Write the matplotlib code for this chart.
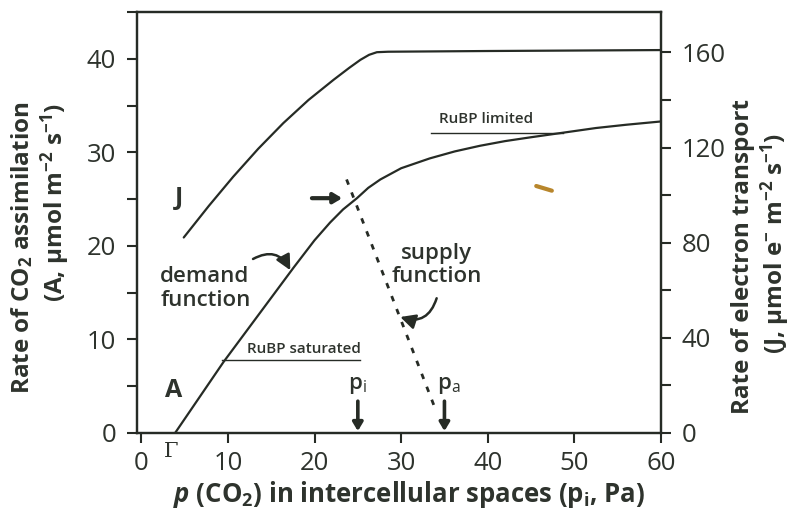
import matplotlib
matplotlib.use('Agg')
import matplotlib.pyplot as plt

plt.rcParams['font.family'] = ['Open Sans', 'DejaVu Sans']
plt.rcParams['mathtext.fontset'] = 'custom'
plt.rcParams['mathtext.rm'] = 'Open Sans'
plt.rcParams['mathtext.bf'] = 'Open Sans:bold'
plt.rcParams['mathtext.it'] = 'Open Sans:italic:bold'

ink = '#262b25'
txt = '#2e332d'

# Demand function A(pi), umol m-2 s-1
A_p = [3.9, 9.5, 17.6, 20.0, 21.8, 23.3, 24.9, 26.2, 27.6, 30.0, 33.3,
       36.2, 39.1, 42.0, 44.9, 48.7, 52.5, 56.0, 60.0]
A_val = [0.0, 7.6, 17.7, 20.6, 22.5, 23.9, 25.1, 26.2, 27.1, 28.3, 29.35,
         30.1, 30.7, 31.2, 31.6, 32.1, 32.6, 32.95, 33.3]

# Electron transport J(pi), umol e- m-2 s-1 (right axis)
J_p = [4.9, 7.8, 10.6, 13.5, 16.4, 19.3, 22.2, 24.0, 25.3, 26.3, 27.2,
       28.5, 40.0, 60.0]
J_val = [82.2, 95.5, 107.7, 119.5, 130.3, 140.0, 148.5, 153.5, 156.9,
         159.0, 160.1, 160.3, 160.6, 161.0]

# Supply function (dashed)
supply_p = [23.7, 34.1]
supply_A = [27.1, 2.2]

p_i = 25.0
p_a = 35.0
gamma = 3.9

fig = plt.figure(figsize=(7.95, 5.29), dpi=100)
ax = fig.add_axes([0.1723, 0.1815, 0.6591, 0.7958])
ax2 = ax.twinx()

ax.plot(A_p, A_val, color=ink, lw=1.6, solid_capstyle='round',
        solid_joinstyle='round')
ax2.plot(J_p, J_val, color=ink, lw=1.6, solid_capstyle='round',
         solid_joinstyle='round')
ax.plot(supply_p, supply_A, color=ink, lw=2.0, linestyle=(0, (2.0, 3.0)))

ax.set_xlim(-0.5, 60)
ax.set_ylim(0, 45)
ax2.set_ylim(0, 177)

ax.set_xticks(range(0, 61, 10))
ax.set_yticks(range(0, 41, 10))
ax.set_yticks(range(5, 46, 10), minor=True)
ax2.set_yticks(range(0, 161, 40))
ax2.set_yticks(range(20, 177, 40), minor=True)

for a in (ax, ax2):
    a.tick_params(which='both', direction='out', length=7, width=1.5,
                  color=ink, labelcolor=txt, labelsize=18.5, pad=8)
    for s in a.spines.values():
        s.set_linewidth(1.6)
        s.set_color(ink)
ax.tick_params(axis='x', pad=6)

# axis labels
lab = dict(ha='center', va='center', fontsize=17.5, fontweight='bold', color=txt)
fig.text(22 / 795, 1 - 248 / 529, r'Rate of CO$_{\mathbf{2}}$ assimilation',
         rotation=90, **lab)
fig.text(55 / 795, 1 - 203 / 529, r'(A, μmol m$^{\mathbf{-2}}$ s$^{\mathbf{-1}}$)',
         rotation=90, **lab)
fig.text(743 / 795, 1 - 256 / 529, 'Rate of electron transport',
         rotation=90, **lab)
fig.text(775 / 795, 1 - 243 / 529,
         r'(J, μmol e$^{\mathbf{-}}$ m$^{\mathbf{-2}}$ s$^{\mathbf{-1}}$)',
         rotation=90, **lab)
fig.text(409 / 795, 1 - 495 / 529,
         r'$p$ (CO$_{\mathbf{2}}$) in intercellular spaces (p$_{\mathbf{i}}$, Pa)',
         ha='center', va='center', fontsize=18.5, fontweight='bold', color=txt)

# curve names and notes
ax.text(4.3, 25.1, 'J', fontsize=18, fontweight='bold', color=txt,
        ha='center', va='center')
ax.text(3.7, 4.5, 'A', fontsize=18, fontweight='bold', color=txt,
        ha='center', va='center')
ax.text(2.2, 15.45, 'demand\nfunction', fontsize=16, fontweight='semibold',
        color=txt, ha='left', va='center', linespacing=1.15)
ax.text(34.1, 17.95, 'supply\nfunction', fontsize=16, fontweight='semibold',
        color=txt, ha='center', va='center', linespacing=1.15)
ax.text(gamma - 0.4, -2.0, 'Γ', fontsize=15, family='DejaVu Serif',
        color=txt, ha='center', va='center', clip_on=False)

# RuBP limits with underline
ax.text(18.8, 9.0, 'RuBP saturated', fontsize=11, fontweight='semibold',
        color=txt, ha='center', va='center')
ax.plot([9.3, 25.3], [7.8, 7.8], color=ink, lw=1.0)
ax.text(39.8, 33.6, 'RuBP limited', fontsize=11, fontweight='semibold',
        color=txt, ha='center', va='center')
ax.plot([33.5, 48.7], [32.05, 32.05], color=ink, lw=1.0)

# pi and pa markers
ax.text(p_i, 5.1, r'p$_{\mathrm{i}}$', fontsize=16, fontweight='semibold',
        color=txt, ha='center', va='center')
ax.text(p_a + 0.5, 5.1, r'p$_{\mathrm{a}}$', fontsize=16, fontweight='semibold',
        color=txt, ha='center', va='center')
for px in (p_i, p_a):
    ax.annotate('', xy=(px, 0.2), xytext=(px, 3.4),
                arrowprops=dict(arrowstyle='-|>,head_length=0.5,head_width=0.3',
                                lw=2.6, color=ink, shrinkA=0, shrinkB=0))

# pointer arrows
ax.annotate('', xy=(23.2, 25.1), xytext=(19.7, 25.1),
            arrowprops=dict(arrowstyle='-|>,head_length=0.5,head_width=0.3',
                            lw=3.0, color=ink, shrinkA=0, shrinkB=0))
ax.annotate('', xy=(17.2, 17.4), xytext=(12.9, 18.6),
            arrowprops=dict(arrowstyle='-|>,head_length=0.9,head_width=0.45',
                            connectionstyle='arc3,rad=-0.5',
                            lw=1.8, color=ink, shrinkA=0, shrinkB=0))
ax.annotate('', xy=(29.9, 12.4), xytext=(34.1, 14.4),
            arrowprops=dict(arrowstyle='-|>,head_length=0.9,head_width=0.45',
                            connectionstyle='arc3,rad=-0.5',
                            lw=1.8, color=ink, shrinkA=0, shrinkB=0))

# small brown stroke
ax.plot([45.6, 47.4], [26.4, 25.9], color='#b8862c', lw=3.0,
        solid_capstyle='round')

fig.savefig('out.png', dpi=100)
